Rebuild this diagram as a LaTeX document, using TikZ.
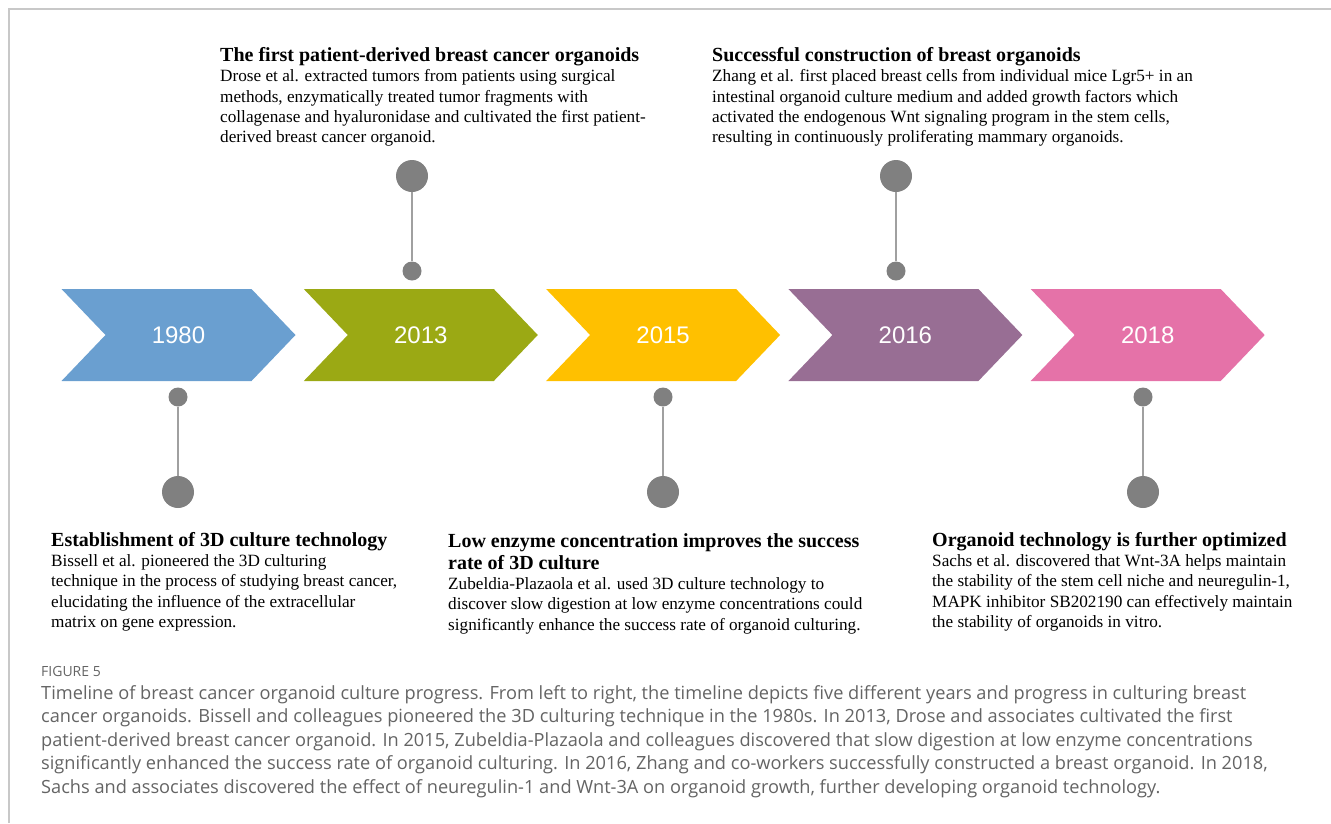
\documentclass[tikz,border=0pt]{standalone}
\usepackage{fontspec}
\setmainfont{Liberation Serif}
\newfontfamily\yearfamily{Liberation Sans}
\newfontfamily\capfamily{Open Sans}
\definecolor{cblue}{RGB}{106,159,208}
\definecolor{cgreen}{RGB}{155,169,20}
\definecolor{cyellow}{RGB}{255,192,0}
\definecolor{cpurple}{RGB}{152,110,148}
\definecolor{cpink}{RGB}{229,114,168}
\definecolor{dotgray}{RGB}{128,128,128}
\definecolor{stemgray}{RGB}{160,160,160}
\definecolor{framegray}{RGB}{200,200,200}
\definecolor{capgray}{RGB}{100,100,100}
\begin{document}
% multi-line text nodes are placed by the baseline of their last line
\begin{tikzpicture}[x=1pt,y=-1pt,
  head/.style={anchor=base west,inner sep=0pt,align=left,font=\fontsize{20}{22}\selectfont\bfseries},
  body/.style={anchor=base west,inner sep=0pt,align=left,font=\fontsize{17.2}{20.4}\selectfont},
  year/.style={inner sep=0pt,text=white,font=\fontsize{24}{28}\selectfont\yearfamily},
  bigdot/.style={circle,fill=dotgray,minimum size=32pt,inner sep=0pt},
  smalldot/.style={circle,fill=dotgray,minimum size=19pt,inner sep=0pt},
  stem/.style={draw=stemgray,line width=1.5pt},
  frame/.style={draw=framegray,line width=1.5pt},
  caption/.style={anchor=base west,inner sep=0pt,align=left,text=capgray,font=\fontsize{18.2}{23.6}\selectfont\capfamily},
  figlabel/.style={anchor=base west,inner sep=0pt,text=capgray,font=\fontsize{14}{16}\selectfont\capfamily}]
\useasboundingbox (0,0) rectangle (1331,823);

% frame lines
\draw[frame] (9,823) -- (9,9) -- (1331,9);

% chevron with its year label
\newcommand\chevron[3]{%
  \fill[#2] (#1,289) -- (#1+190,289) -- (#1+234,335) -- (#1+190,381)
    -- (#1,381) -- (#1+44,335) -- cycle;
  \node[year] (y#3) at (#1+117,335) {#3};}
\chevron{61.5}{cblue}{1980}
\chevron{303.8}{cgreen}{2013}
\chevron{546.1}{cyellow}{2015}
\chevron{788.4}{cpurple}{2016}
\chevron{1030.7}{cpink}{2018}

% pins
\node[bigdot] (p13a) at (412,176) {};
\node[smalldot] (p13b) at (412,271) {};
\node[bigdot] (p16a) at (896,176) {};
\node[smalldot] (p16b) at (896,271) {};
\node[smalldot] (p80a) at (178,397) {};
\node[bigdot] (p80b) at (178,492) {};
\node[smalldot] (p15a) at (663,397) {};
\node[bigdot] (p15b) at (663,492) {};
\node[smalldot] (p18a) at (1143,397) {};
\node[bigdot] (p18b) at (1143,492) {};
\draw[stem] (p13a) -- (p13b);
\draw[stem] (p16a) -- (p16b);
\draw[stem] (p80a) -- (p80b);
\draw[stem] (p15a) -- (p15b);
\draw[stem] (p18a) -- (p18b);

% 2013
\node[head] (h13) at (220,61) {The first patient-derived breast cancer organoids};
\node[body] (b13) at (220,142.9) {Drose et al. extracted tumors from patients using surgical\\
methods, enzymatically treated tumor fragments with\\
collagenase and hyaluronidase and cultivated the first patient-\\
derived breast cancer organoid.};

% 2016
\node[head] (h16) at (712,61) {Successful construction of breast organoids};
\node[body] (b16) at (712,142.9) {Zhang et al. first placed breast cells from individual mice Lgr5+ in an\\
intestinal organoid culture medium and added growth factors which\\
activated the endogenous Wnt signaling program in the stem cells,\\
resulting in continuously proliferating mammary organoids.};

% 1980
\node[head] (h80) at (51,546) {Establishment of 3D culture technology};
\node[body] (b80) at (51,627.7) {Bissell et al. pioneered the 3D culturing\\
technique in the process of studying breast cancer,\\
elucidating the influence of the extracellular\\
matrix on gene expression.};

% 2015
\node[head] (h15) at (448,569) {Low enzyme concentration improves the success\\rate of 3D culture};
\node[body] (b15) at (448,630.3) {Zubeldia-Plazaola et al. used 3D culture technology to\\
discover slow digestion at low enzyme concentrations could\\
significantly enhance the success rate of organoid culturing.};

% 2018
\node[head] (h18) at (932,546) {Organoid technology is further optimized};
\node[body] (b18) at (932,627.7) {Sachs et al. discovered that Wnt-3A helps maintain\\
the stability of the stem cell niche and neuregulin-1,\\
MAPK inhibitor SB202190 can effectively maintain\\
the stability of organoids in vitro.};

% caption
\node[figlabel] (fig) at (41,676) {FIGURE 5};
\node[caption] (cap) at (41,793.4) {Timeline of breast cancer organoid culture progress. From left to right, the timeline depicts five different years and progress in culturing breast\\
cancer organoids. Bissell and colleagues pioneered the 3D culturing technique in the 1980s. In 2013, Drose and associates cultivated the first\\
patient-derived breast cancer organoid. In 2015, Zubeldia-Plazaola and colleagues discovered that slow digestion at low enzyme concentrations\\
significantly enhanced the success rate of organoid culturing. In 2016, Zhang and co-workers successfully constructed a breast organoid. In 2018,\\
Sachs and associates discovered the effect of neuregulin-1 and Wnt-3A on organoid growth, further developing organoid technology.};
\end{tikzpicture}
\end{document}
